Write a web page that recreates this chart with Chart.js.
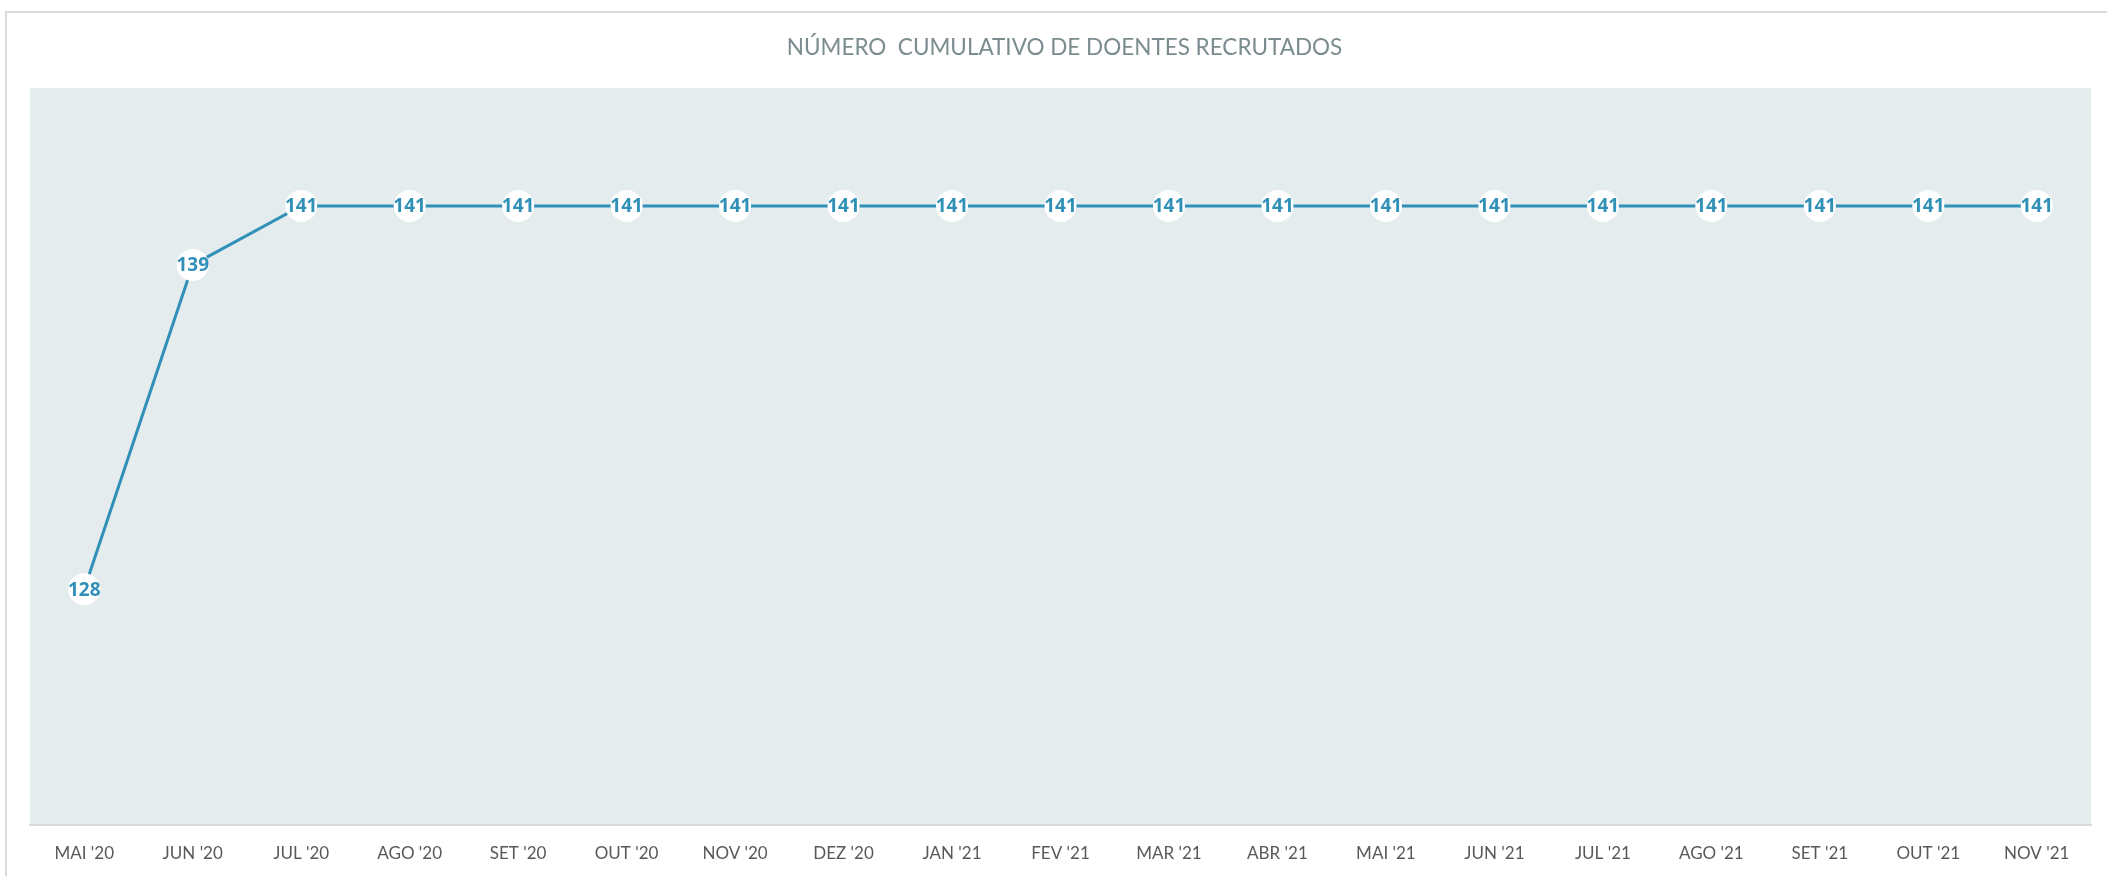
<!DOCTYPE html>
<html>
<head>
<meta charset="utf-8">
<script src="https://cdn.jsdelivr.net/npm/chart.js@4/dist/chart.umd.min.js"></script>
<style>
  body { margin: 0; background: #fff; }
  canvas { display: block; }
</style>
</head>
<body>
<canvas id="line-chart" width="2107" height="876"></canvas>
<script>
// DATA
var months = ["MAI '20", "JUN '20", "JUL '20", "AGO '20", "SET '20", "OUT '20",
  "NOV '20", "DEZ '20", "JAN '21", "FEV '21", "MAR '21", "ABR '21", "MAI '21",
  "JUN '21", "JUL '21", "AGO '21", "SET '21", "OUT '21", "NOV '21"]
var doentes = [128, 139, 141, 141, 141, 141, 141, 141, 141, 141, 141, 141, 141,
  141, 141, 141, 141, 141, 141]
var yMin = 120
var yMax = 145

var lineColor = '#3190b8'

// frame + plot background
var backgroundPlugin = {
  id: 'plotBackground',
  beforeDraw: function(chart) {
    let ctx = chart.ctx
    let a = chart.chartArea
    ctx.save()
    ctx.strokeStyle = '#d9d9d9'
    ctx.lineWidth = 2
    ctx.beginPath()
    ctx.moveTo(6, 877)
    ctx.lineTo(6, 12)
    ctx.lineTo(2108, 12)
    ctx.stroke()
    ctx.fillStyle = '#e4ecee'
    ctx.fillRect(a.left, a.top, a.right - a.left, a.bottom - a.top)
    ctx.restore()
  }
}

// value labels on top of the white markers
var labelPlugin = {
  id: 'valueLabels',
  afterDatasetsDraw: function(chart) {
    let ctx = chart.ctx
    let meta = chart.getDatasetMeta(0)
    ctx.save()
    ctx.font = 'bold 19px "Open Sans"'
    ctx.fillStyle = lineColor
    ctx.textAlign = 'center'
    ctx.textBaseline = 'middle'
    meta.data.forEach((pt, i) => {
      ctx.fillText(chart.data.datasets[0].data[i], pt.x, pt.y + 1)
    })
    ctx.restore()
  }
}

var lineChart = new Chart(document.getElementById('line-chart'), {
  type: 'line',
  data: {
    labels: months,
    datasets: [
      {
        data: doentes,
        borderColor: lineColor,
        borderWidth: 3,
        pointRadius: 16,
        pointBackgroundColor: '#ffffff',
        pointBorderWidth: 0,
        pointBorderColor: '#ffffff',
        tension: 0
      }
    ]
  },
  options: {
    responsive: false,
    animation: false,
    devicePixelRatio: 1,
    layout: {
      padding: { left: 30, right: 8, top: 0, bottom: 0 }
    },
    plugins: {
      legend: { display: false },
      tooltip: { enabled: false },
      title: {
        display: true,
        text: 'NÚMERO  CUMULATIVO DE DOENTES RECRUTADOS',
        color: '#7a8c8e',
        font: { family: 'Lato', size: 22.5, weight: 'normal' },
        padding: { top: 34, bottom: 27 }
      }
    },
    scales: {
      x: {
        offset: true,
        grid: { display: false },
        border: { display: true, color: '#d9d9d9', width: 2 },
        ticks: {
          color: '#595959',
          font: { family: 'Lato', size: 17 },
          padding: 10,
          maxRotation: 0,
          autoSkip: false
        },
        afterFit: function(scale) {
          scale.height = 51
        }
      },
      y: {
        display: false,
        min: yMin,
        max: yMax
      }
    }
  },
  plugins: [backgroundPlugin, labelPlugin]
});
</script>
</body>
</html>
